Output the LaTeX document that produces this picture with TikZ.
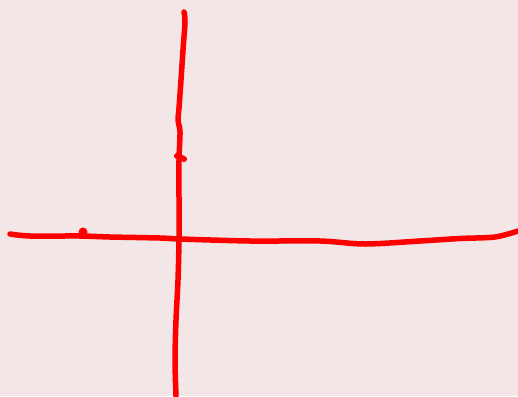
\documentclass[tikz,border=0pt]{standalone}
\definecolor{bgpink}{HTML}{F2E6E6}
\tikzset{pen/.style={draw=red,line width=5.5pt,line cap=round,line join=round}}
\begin{document}
\begin{tikzpicture}[x=1pt,y=-1pt]
\fill[bgpink] (0,0) rectangle (518,396);
\useasboundingbox (0,0) rectangle (518,396);
% vertical stroke
\draw[pen] plot[smooth,tension=0.5] coordinates {(184,12) (185,22) (183,50) (181,80) (179,108) (178,120) (180,132) (179,160) (179,200) (179,240) (178,280) (176,320) (175,360) (176,396)};
\draw[pen,line width=6pt] (177,156) -- (184,159);
% horizontal stroke
\draw[pen] plot[smooth,tension=0.5] coordinates {(10,234) (30,236) (80,236) (110,237) (160,238) (180,239) (250,241) (320,241) (365,244) (420,241) (460,238.5) (495,237) (518,231)};
\fill[red] (83,232) circle (4.5);
\end{tikzpicture}
\end{document}
